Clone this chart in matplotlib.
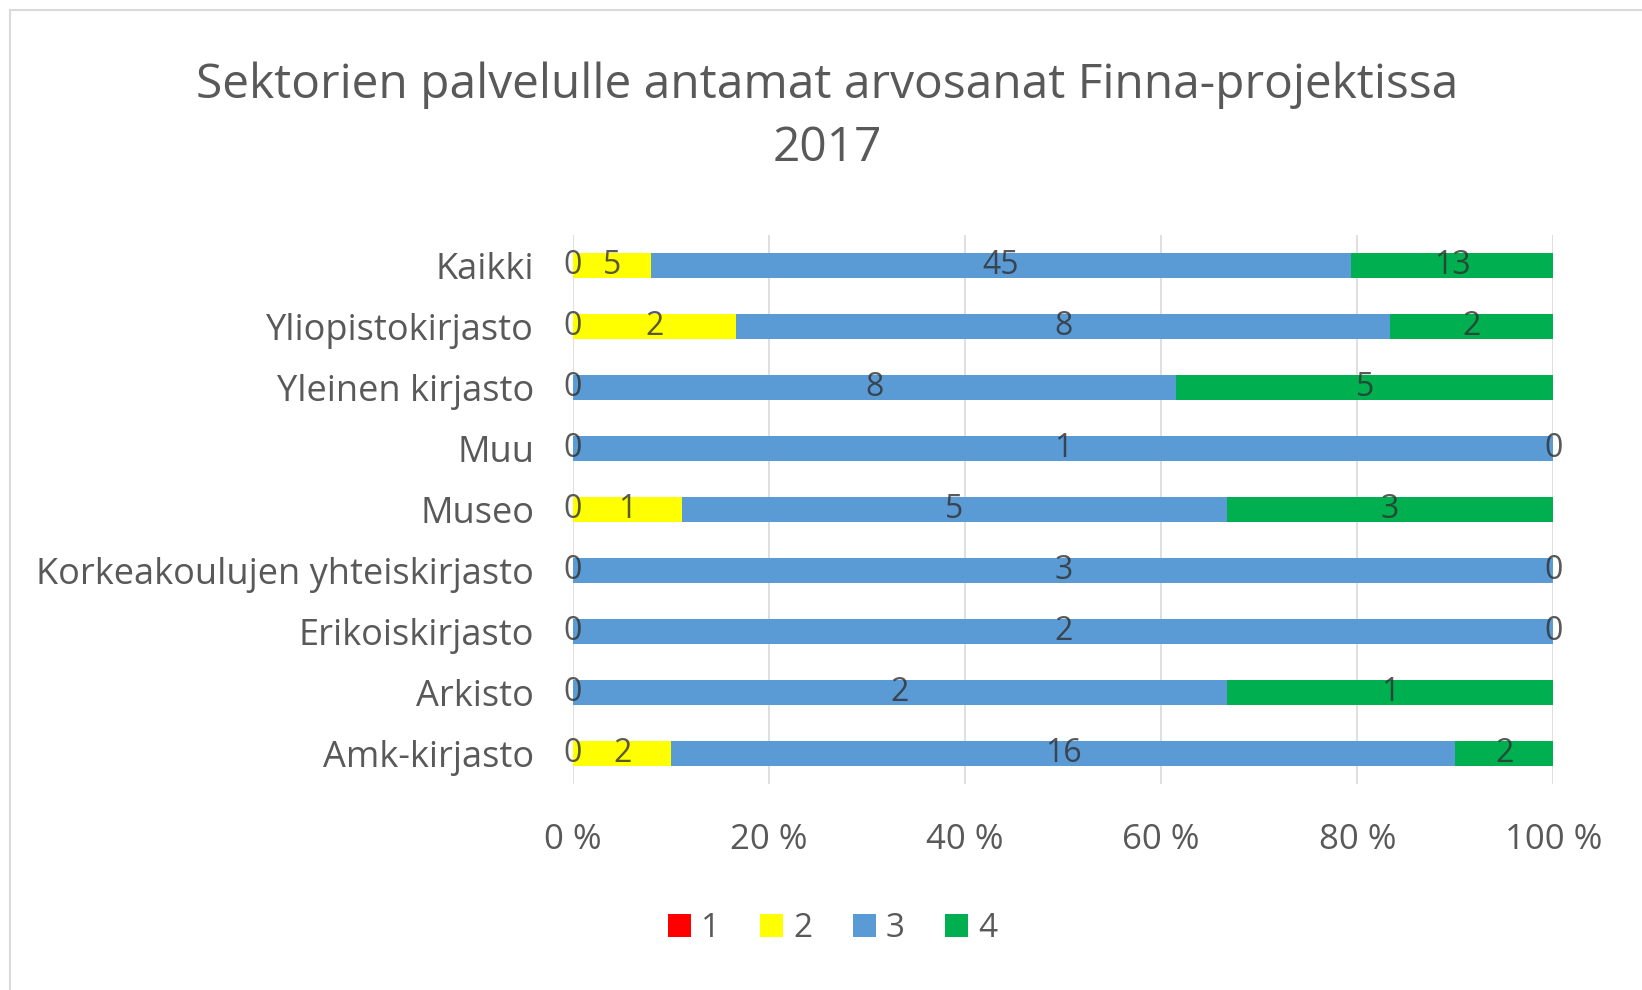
import numpy as np
import matplotlib
matplotlib.use("Agg")
import matplotlib.pyplot as plt
from matplotlib.patches import Rectangle

plt.rcParams['font.family'] = ['Open Sans', 'DejaVu Sans']

# data
kategoriat = ['Kaikki', 'Yliopistokirjasto', 'Yleinen kirjasto', 'Muu', 'Museo',
              'Korkeakoulujen yhteiskirjasto', 'Erikoiskirjasto', 'Arkisto', 'Amk-kirjasto']
arvo1 = [0, 0, 0, 0, 0, 0, 0, 0, 0]
arvo2 = [5, 2, 0, 0, 1, 0, 0, 0, 2]
arvo3 = [45, 8, 8, 1, 5, 3, 2, 2, 16]
arvo4 = [13, 2, 5, 0, 3, 0, 0, 1, 2]
sarjat = ['1', '2', '3', '4']
varit = ['#ff0000', '#ffff00', '#5b9bd5', '#00b050']
xtikit = ['0 %', '20 %', '40 %', '60 %', '80 %', '100 %']

tekstivari = '#595959'

fig = plt.figure(figsize=(16.42, 9.9), dpi=100)
fig.patches.append(Rectangle((0.006, -0.01), 1.0, 1.0, transform=fig.transFigure,
                             fill=False, edgecolor='#d9d9d9', linewidth=1.5))
ax = fig.add_axes([0.349, 0.2076, 0.597, 0.555])

data = np.array([arvo1, arvo2, arvo3, arvo4], dtype=float)
summat = data.sum(axis=0)
osuus = data / summat * 100
y = np.arange(len(kategoriat))
vasen = np.zeros(len(kategoriat))

for i in range(4):
    ax.barh(y, osuus[i], left=vasen, height=0.41, color=varit[i], label=sarjat[i], zorder=3)
    for j in range(len(kategoriat)):
        # kaksi nollaa samassa kohdassa -> piirretään vain yksi
        if i == 1 and data[i, j] == 0:
            continue
        xc = vasen[j] + osuus[i, j] / 2
        ax.text(xc, y[j], '%d' % data[i, j], ha='center', va='center',
                fontsize=23, color='#303030', alpha=0.8, zorder=4)
    vasen += osuus[i]

ax.set_xlim(0, 100)
ax.set_ylim(len(kategoriat) - 0.5, -0.5)
ax.set_yticks(y)
ax.set_yticklabels(kategoriat, fontsize=26, color=tekstivari)
ax.set_xticks(np.arange(0, 101, 20))
ax.set_xticklabels(xtikit, fontsize=25, color=tekstivari)
ax.tick_params(length=0)
ax.tick_params(axis='y', pad=28)
ax.tick_params(axis='x', pad=28)
ax.grid(axis='x', color='#d9d9d9', linewidth=1.2, zorder=0)
for s in ax.spines.values():
    s.set_visible(False)

fig.text(0.504, 0.914, 'Sektorien palvelulle antamat arvosanat Finna-projektissa',
         ha='center', va='center', fontsize=34.5, color=tekstivari)
fig.text(0.504, 0.850, '2017', ha='center', va='center', fontsize=34.5, color=tekstivari)

fig.legend(loc='center', bbox_to_anchor=(0.507, 0.062),
           ncol=4, frameon=False, fontsize=24, handlelength=0.7, handleheight=0.7,
           handletextpad=0.3, columnspacing=1.2, labelcolor=tekstivari)

fig.savefig('out.png', dpi=100)
